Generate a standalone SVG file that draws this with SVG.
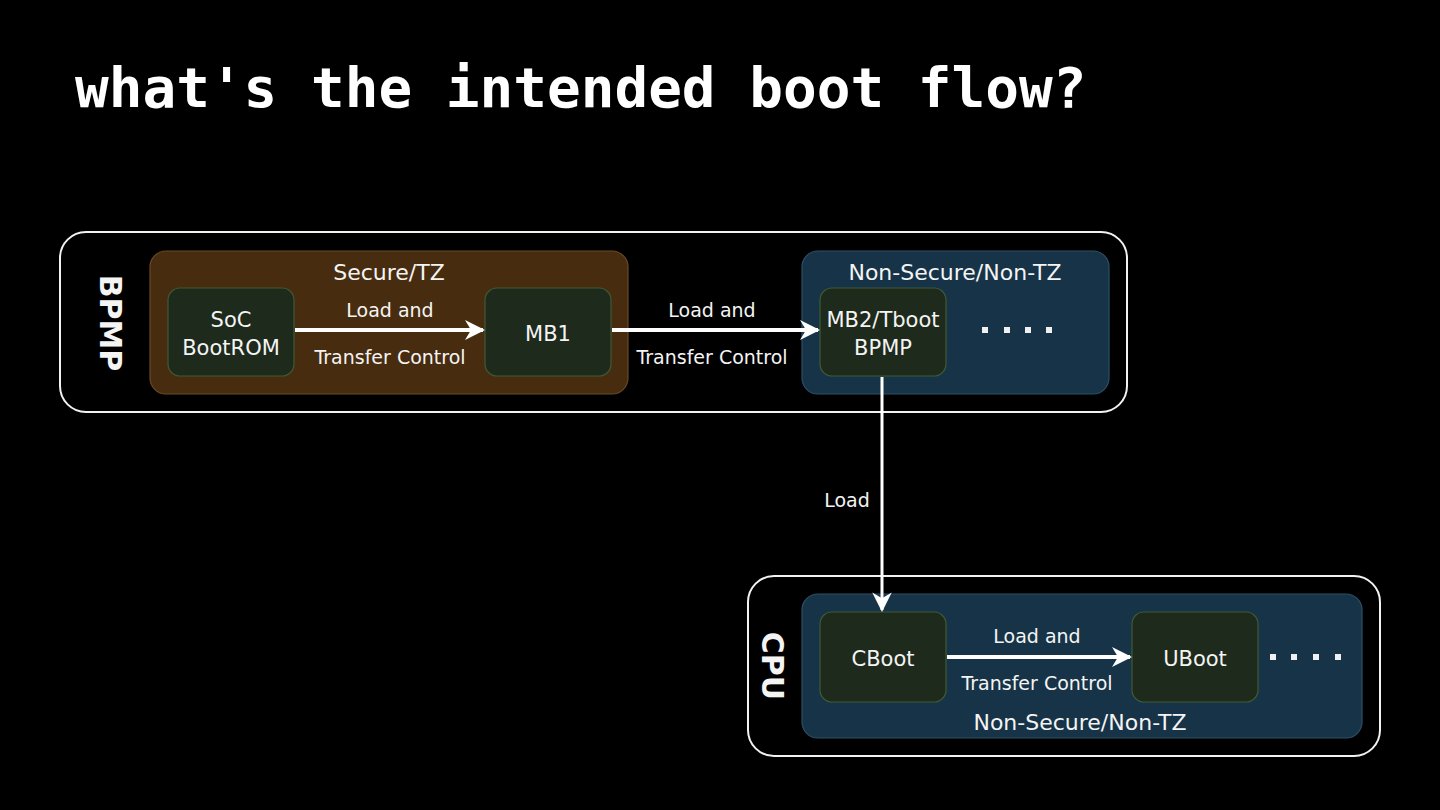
<svg xmlns="http://www.w3.org/2000/svg" width="1440" height="810" viewBox="0 0 1440 810">
<style>
.outer{fill:none;stroke:#f2f2f2;stroke-width:2}
.sec{fill:#472c0f;stroke:#6a4a25;stroke-width:1.2}
.nsec{fill:#163347;stroke:#2c5068;stroke-width:1.2}
.node{fill:#1e2a1c;stroke:#3f5a35;stroke-width:1.2}
.t{font-family:"DejaVu Sans","Liberation Sans",sans-serif;fill:#f4f4f4;text-anchor:middle}
.lbl{font-size:19px}
.nd{font-size:21px}
.grp{font-size:22px}
.side{font-size:30px;font-weight:bold}
.conn{stroke:#ffffff;stroke-width:4;fill:none}
.thin{stroke:#ffffff;stroke-width:3;fill:none}
.dot{fill:#f0f0f0}
</style>
<defs>
<marker id="ah" viewBox="0 0 10 10" refX="9" refY="5" markerWidth="5" markerHeight="5" orient="auto" markerUnits="strokeWidth">
<path d="M0,0 L10,5 L0,10 L3,5 z" fill="#ffffff"/>
</marker>
<marker id="ah2" viewBox="0 0 10 10" refX="9" refY="5" markerWidth="6.5" markerHeight="6.5" orient="auto" markerUnits="strokeWidth">
<path d="M0,0 L10,5 L0,10 L3,5 z" fill="#ffffff"/>
</marker>
</defs>
<rect width="1440" height="810" fill="#000000"/>
<text x="75" y="107" font-family="'DejaVu Sans Mono','Liberation Mono',monospace" font-weight="bold" font-size="56" fill="#ffffff">what's the intended boot flow?</text>

<g id="bpmp">
<rect class="outer" x="60" y="232" width="1067" height="180" rx="26"/>
<text class="t side" transform="translate(100,323) rotate(90)">BPMP</text>
</g>
<g id="secure-tz">
<rect class="sec" x="150" y="251" width="478" height="143" rx="16"/>
<text class="t grp" x="389" y="280">Secure/TZ</text>
</g>
<g id="nonsecure-bpmp">
<rect class="nsec" x="802" y="251" width="307" height="143" rx="16"/>
<text class="t grp" x="955" y="280">Non-Secure/Non-TZ</text>
<g class="dot"><rect x="982" y="327" width="6" height="6"/><rect x="1004" y="327" width="6" height="6"/><rect x="1025" y="327" width="6" height="6"/><rect x="1046" y="327" width="6" height="6"/></g>
</g>
<g id="cpu">
<rect class="outer" x="748" y="576" width="632" height="180" rx="26"/>
<text class="t side" transform="translate(762,666) rotate(90)">CPU</text>
</g>
<g id="nonsecure-cpu">
<rect class="nsec" x="802" y="594" width="560" height="144" rx="16"/>
<text class="t grp" x="1080" y="730">Non-Secure/Non-TZ</text>
<g class="dot"><rect x="1270" y="654" width="6" height="6"/><rect x="1291" y="654" width="6" height="6"/><rect x="1313" y="654" width="6" height="6"/><rect x="1335" y="654" width="6" height="6"/></g>
</g>

<g id="soc-bootrom">
<rect class="node" x="168" y="288" width="126" height="88" rx="12"/>
<text class="t nd" x="231" y="327">SoC</text>
<text class="t nd" x="231" y="355">BootROM</text>
</g>
<g id="mb1">
<rect class="node" x="485" y="288" width="126" height="88" rx="12"/>
<text class="t nd" x="548" y="341">MB1</text>
</g>
<g id="mb2">
<rect class="node" x="820" y="288" width="126" height="88" rx="12"/>
<text class="t nd" x="883" y="327">MB2/Tboot</text>
<text class="t nd" x="883" y="355">BPMP</text>
</g>
<g id="cboot">
<rect class="node" x="820" y="612" width="126" height="90" rx="12"/>
<text class="t nd" x="883" y="666">CBoot</text>
</g>
<g id="uboot">
<rect class="node" x="1132" y="612" width="126" height="90" rx="12"/>
<text class="t nd" x="1195" y="666">UBoot</text>
</g>

<g id="connectors">
<line class="conn" x1="295" y1="330" x2="483" y2="330" marker-end="url(#ah)"/>
<text class="t lbl" x="390" y="317">Load and</text>
<text class="t lbl" x="390" y="364">Transfer Control</text>
<line class="conn" x1="612" y1="330" x2="818" y2="330" marker-end="url(#ah)"/>
<text class="t lbl" x="712" y="317">Load and</text>
<text class="t lbl" x="712" y="364">Transfer Control</text>
<line class="thin" x1="882" y1="377" x2="882" y2="610" marker-end="url(#ah2)"/>
<text class="t lbl" x="847" y="507">Load</text>
<line class="conn" x1="947" y1="657" x2="1130" y2="657" marker-end="url(#ah)"/>
<text class="t lbl" x="1037" y="643">Load and</text>
<text class="t lbl" x="1037" y="690">Transfer Control</text>
</g>
</svg>
